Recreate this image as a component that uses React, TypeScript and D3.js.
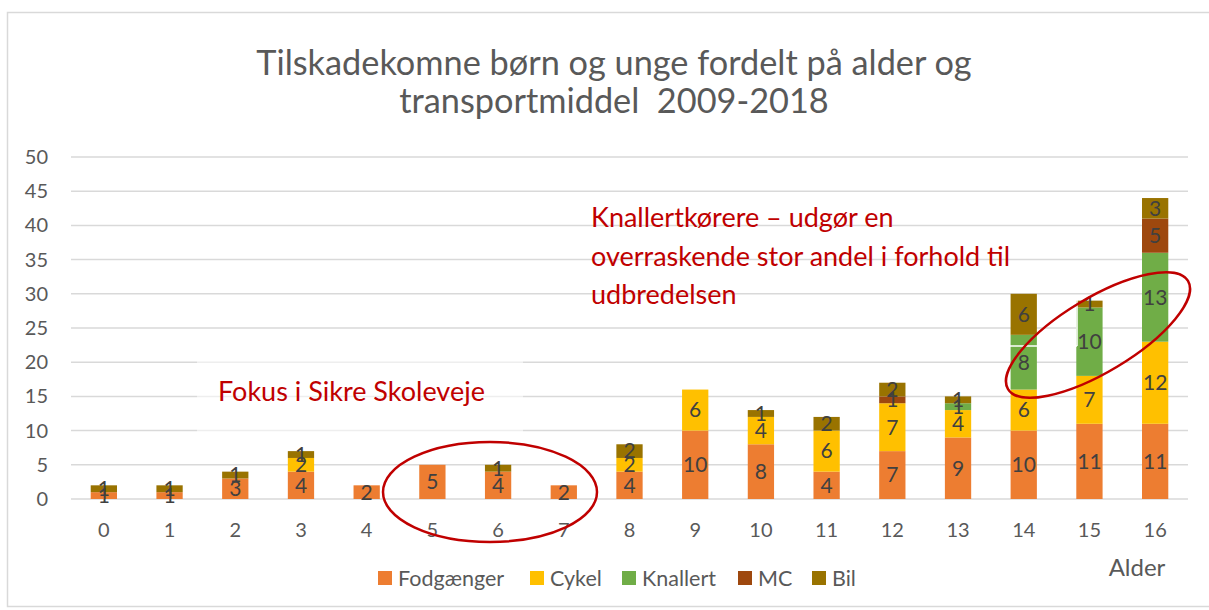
import React from "react";
import * as d3 from "d3";

const ages = ["0","1","2","3","4","5","6","7","8","9","10","11","12","13","14","15","16"];
const seriesNames = ["Fodgænger","Cykel","Knallert","MC","Bil"];
const fodgaenger = [1,1,3,4,2,5,4,2,4,10,8,4,7,9,10,11,11];
const cykel =      [0,0,0,2,0,0,0,0,2,6,4,6,7,4,6,7,12];
const knallert =   [0,0,0,0,0,0,0,0,0,0,0,0,0,1,8,10,13];
const mc =         [0,0,0,0,0,0,0,0,0,0,0,0,1,0,0,0,5];
const bil =        [1,1,1,1,0,0,1,0,2,0,1,2,2,1,6,1,3];
const colors = ["#ED7D31","#FFC000","#70AD47","#9E480E","#997300"];
const yTicks = [0,5,10,15,20,25,30,35,40,45,50];
const titleLines = ["Tilskadekomne børn og unge fordelt på alder og","transportmiddel  2009-2018"];
const noteKnallert = ["Knallertkørere – udgør en","overraskende stor andel i forhold til","udbredelsen"];
const noteFokus = "Fokus i Sikre Skoleveje";

const FONT = "Lato, 'Open Sans', sans-serif";

export default function App() {
  const W = 1209, H = 610;
  const left = 71, right = 1188, top = 157, bottom = 499;
  const x = d3.scaleBand().domain(ages).range([left, right]).paddingInner(0.6).paddingOuter(0.3);
  const y = d3.scaleLinear().domain([0, 50]).range([bottom, top]);
  const seriesData = [fodgaenger, cykel, knallert, mc, bil];
  const table = ages.map((a, i) => {
    const o: any = { age: a };
    seriesNames.forEach((s, j) => (o[s] = seriesData[j][i]));
    return o;
  });
  const stacked = d3.stack().keys(seriesNames)(table as any);
  const legendX = [378, 530, 622, 738, 812];

  return (
    <svg width={W} height={H} style={{ position: "absolute", left: 0, top: 0, fontFamily: FONT }}>
      <rect x={0} y={0} width={W} height={H} fill="#fff" />
      <rect x={7.5} y={12.5} width={W} height={H - 16} fill="#fff" stroke="#d9d9d9" strokeWidth={1.5} />
      {titleLines.map((t, i) => (
        <text key={i} x={614} y={75 + i * 38} textAnchor="middle" fontSize={34.3} fill="#595959" style={{ whiteSpace: "pre" }}>{t}</text>
      ))}
      {yTicks.map((t) => (
        <g key={t}>
          <line x1={left} x2={right} y1={y(t)} y2={y(t)} stroke="#d9d9d9" strokeWidth={1.5} />
          <text x={48} y={y(t)} dy="0.35em" textAnchor="end" fontSize={20} fill="#595959">{t}</text>
        </g>
      ))}
      <rect x={197} y={355} width={326} height={80} fill="#fff" opacity={0.55} />
      {stacked.map((layer, j) => (
        <g key={layer.key} fill={colors[j]}>
          {layer.map((d, i) =>
            d[1] - d[0] > 0 ? (
              <rect key={i} x={x(ages[i])} y={y(d[1])} width={x.bandwidth()} height={y(d[0]) - y(d[1])} />
            ) : null
          )}
        </g>
      ))}
      {stacked.map((layer, j) => (
        <g key={layer.key + "l"}>
          {layer.map((d, i) =>
            d[1] - d[0] > 0 ? (
              <text key={i} x={(x(ages[i]) as number) + x.bandwidth() / 2} y={(y(d[0]) + y(d[1])) / 2} dy="0.35em"
                textAnchor="middle" fontSize={21} fill="#404040">{d[1] - d[0]}</text>
            ) : null
          )}
        </g>
      ))}
      {ages.map((a) => (
        <text key={a} x={(x(a) as number) + x.bandwidth() / 2} y={530} dy="0.35em" textAnchor="middle" fontSize={20} fill="#595959">{a}</text>
      ))}
      <text x={1137} y={568} dy="0.35em" textAnchor="middle" fontSize={24} fill="#595959">Alder</text>
      {seriesNames.map((s, j) => (
        <g key={s}>
          <rect x={legendX[j]} y={571} width={14} height={14} fill={colors[j]} />
          <text x={legendX[j] + 20} y={578} dy="0.35em" fontSize={21.5} fill="#595959">{s}</text>
        </g>
      ))}
      <line x1={1077} x2={1077} y1={297} y2={346} stroke="#fff" strokeWidth={1.5} />
      <line x1={1000} x2={1077} y1={346} y2={346} stroke="#fff" strokeWidth={1.5} />
      <text x={218} y={401} fontSize={27} fill="#C00000">{noteFokus}</text>
      {noteKnallert.map((t, i) => (
        <text key={i} x={591} y={227 + i * 38.5} fontSize={27} fill="#C00000">{t}</text>
      ))}
      <ellipse cx={490} cy={492} rx={107} ry={50} fill="none" stroke="#C00000" strokeWidth={2.5} />
      <ellipse cx={1098} cy={335} rx={105} ry={37} fill="none" stroke="#C00000" strokeWidth={2.5}
        transform="rotate(-31 1098 335)" />
    </svg>
  );
}
